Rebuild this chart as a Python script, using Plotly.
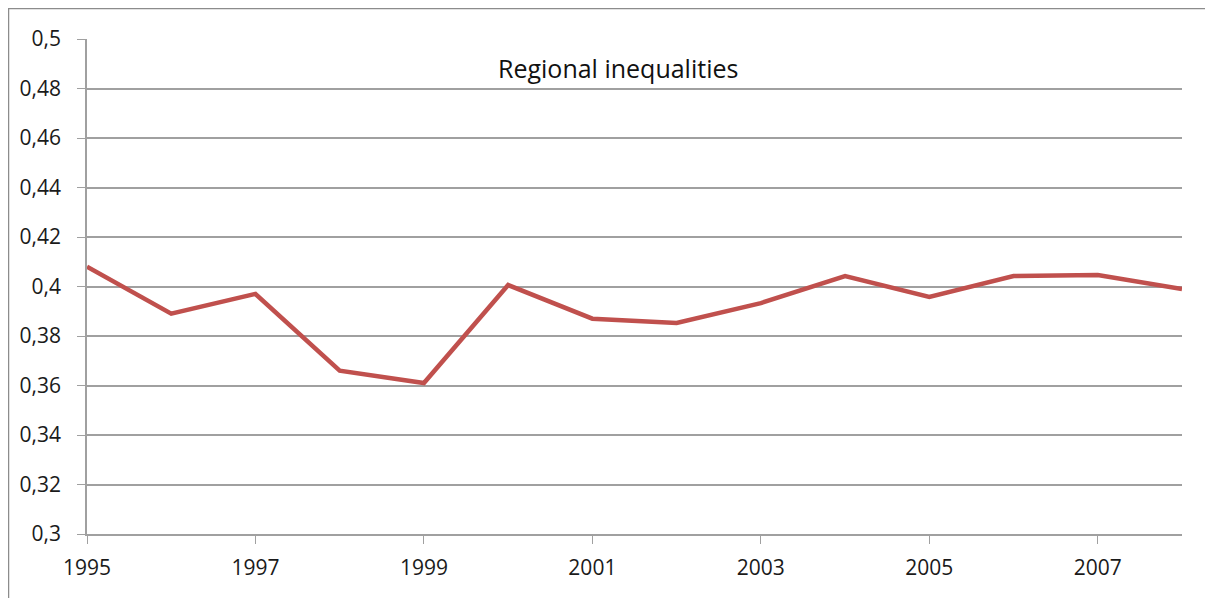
import plotly.graph_objects as go

years = list(range(1995, 2009))
inequality = [0.408, 0.389, 0.397, 0.366, 0.361, 0.4006, 0.387, 0.3853,
              0.3933, 0.4042, 0.3958, 0.4042, 0.4046, 0.399]
y_ticks = [0.3, 0.32, 0.34, 0.36, 0.38, 0.4, 0.42, 0.44, 0.46, 0.48, 0.5]
y_labels = ["0,3", "0,32", "0,34", "0,36", "0,38", "0,4", "0,42", "0,44", "0,46", "0,48", "0,5"]
x_ticks = [1995, 1997, 1999, 2001, 2003, 2005, 2007]

# page body has an 8px margin, so figure coords are page coords minus 8
W, H = 1205, 590
L, R, T, B = 79, 31, 31, 64
pw, ph = W - L - R, H - T - B

fig = go.Figure(go.Scatter(
    x=years, y=inequality, mode="lines",
    line=dict(color="#C0504D", width=4.5), showlegend=False,
))

font = dict(family="Open Sans, Noto Sans, sans-serif", size=21, color="#1a1a1a")

fig.update_layout(
    width=W, height=H,
    margin=dict(l=L, r=R, t=T, b=B),
    paper_bgcolor="white", plot_bgcolor="white",
    font=font,
    xaxis=dict(range=[1995, 2008], tickvals=x_ticks, ticks="outside", ticklen=8,
               tickcolor="#A0A0A0", showline=True, linecolor="#A0A0A0", linewidth=1.5,
               showgrid=False, zeroline=False, tickfont=font, ticklabelstandoff=6),
    yaxis=dict(range=[0.3, 0.5], tickvals=y_ticks, ticktext=y_labels, ticks="outside",
               ticklen=8, tickcolor="#A0A0A0", showline=True, linecolor="#A0A0A0",
               linewidth=1.5, showgrid=True, gridcolor="#A0A0A0", gridwidth=1.5,
               zeroline=False, tickfont=font, ticklabelstandoff=12),
    annotations=[dict(text="Regional inequalities", x=(610 - L) / pw, y=1 - (60 - T) / ph,
                      xref="paper", yref="paper", xanchor="center", yanchor="middle",
                      showarrow=False,
                      font=dict(family="Open Sans, Noto Sans, sans-serif", size=25, color="#111111"))],
    shapes=[
        dict(type="line", xref="paper", yref="paper",
             x0=-L / pw, x1=(W - L) / pw, y0=1 + T / ph, y1=1 + T / ph,
             line=dict(color="#8C8C8C", width=2.5)),
        dict(type="line", xref="paper", yref="paper",
             x0=-L / pw, x1=-L / pw, y0=1 + T / ph, y1=-B / ph,
             line=dict(color="#8C8C8C", width=2.5)),
    ],
)

fig.write_html("out.html")
